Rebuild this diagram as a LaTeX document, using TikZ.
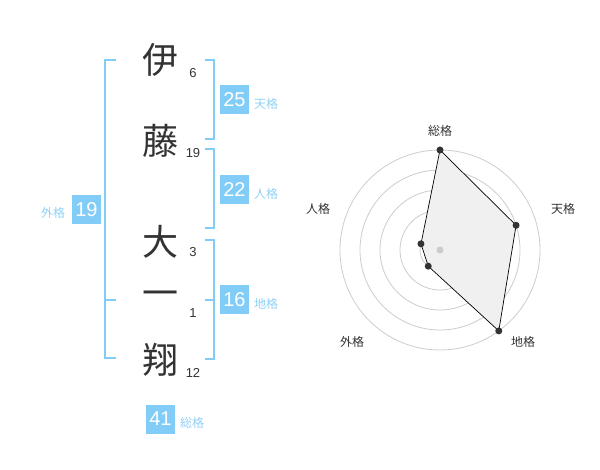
\documentclass[tikz,border=0pt]{standalone}
\usepackage{fontspec}
\setmainfont{Liberation Sans}
\newfontfamily\jpfont{Noto Sans CJK JP}
\usetikzlibrary{positioning}
\definecolor{kakublue}{HTML}{82CDF8}
\definecolor{kakutext}{HTML}{8ED1F7}
\definecolor{inkgray}{HTML}{333333}
\definecolor{ringgray}{HTML}{CCCCCC}
\definecolor{areafill}{HTML}{F0F0F0}

\tikzset{
  kanji/.style={font=\jpfont\fontsize{36}{36}\selectfont, text=inkgray, inner sep=0pt},
  strokes/.style={font=\fontsize{13}{13}\selectfont, text=inkgray, inner sep=0pt},
  scorebox/.style={fill=kakublue, text=white, minimum width=29pt, minimum height=29pt, inner sep=0pt, font=\fontsize{20}{20}\selectfont},
  kakulabel/.style={font=\jpfont\fontsize{12}{12}\selectfont, text=kakutext, inner sep=0pt},
  bracket/.style={draw=kakublue, line width=2pt},
  ring/.style={draw=ringgray, line width=0.8pt},
  axislabel/.style={font=\jpfont\fontsize{12}{12}\selectfont, text=inkgray, inner sep=0pt},
}

\begin{document}
\begin{tikzpicture}[x=1pt,y=-1pt]
\useasboundingbox (0,0) rectangle (600,470);

% Name
\node[kanji] (c1) at (160,60) {伊};
\node[kanji] (c2) at (160,141) {藤};
\node[kanji] (c3) at (160,242) {大};
\node[kanji] (c4) at (160,299) {一};
\node[kanji] (c5) at (160,360) {翔};
\node[strokes] (n1) at (193,73) {6};
\node[strokes] (n2) at (193,153) {19};
\node[strokes] (n3) at (193,252) {3};
\node[strokes] (n4) at (193,313) {1};
\node[strokes] (n5) at (193,373) {12};

% Brackets
\draw[bracket] (116,60) -- (105,60) -- (105,358) -- (116,358);
\draw[bracket] (105,300) -- (116,300);
\draw[bracket] (205,60) -- (214,60) -- (214,139) -- (205,139);
\draw[bracket] (205,149) -- (214,149) -- (214,228) -- (205,228);
\draw[bracket] (205,240) -- (214,240) -- (214,359) -- (205,359);
\draw[bracket] (205,300) -- (214,300);

% Scores
\node[scorebox] (ten) at (234.5,100) {25};
\node[kakulabel] (tenl) at (266,104) {天格};
\node[scorebox] (jin) at (234.5,190) {22};
\node[kakulabel] (jinl) at (266,194) {人格};
\node[scorebox] (chi) at (234.5,300) {16};
\node[kakulabel] (chil) at (266,304) {地格};
\node[scorebox] (gai) at (86.5,210) {19};
\node[kakulabel] (gail) at (53,213) {外格};
\node[scorebox] (sou) at (160.5,419) {41};
\node[kakulabel] (soul) at (192,423) {総格};

% Radar chart
\begin{scope}[shift={(440,250)}]
\coordinate (ctr) at (0,0);
\foreach \r in {20,40,...,100}
  \draw[ring] (ctr) circle (\r);
\coordinate (p1) at (-90:100);
\coordinate (p2) at (-18:80);
\coordinate (p3) at (54:100);
\coordinate (p4) at (126:20);
\coordinate (p5) at (198:20);
\draw[fill=areafill, line width=0.7pt] (p1) -- (p2) -- (p3) -- (p4) -- (p5) -- cycle;
\fill[ringgray] (ctr) circle (3.5);
\foreach \p in {p1,p2,p3,p4,p5}
  \fill[inkgray] (\p) circle (3.5);
\node[axislabel] (ax1) at (0,-119) {総格};
\node[axislabel] (ax2) at (123,-41) {天格};
\node[axislabel] (ax3) at (83,92) {地格};
\node[axislabel] (ax4) at (-88,92) {外格};
\node[axislabel] (ax5) at (-122,-41) {人格};
\end{scope}
\end{tikzpicture}
\end{document}
